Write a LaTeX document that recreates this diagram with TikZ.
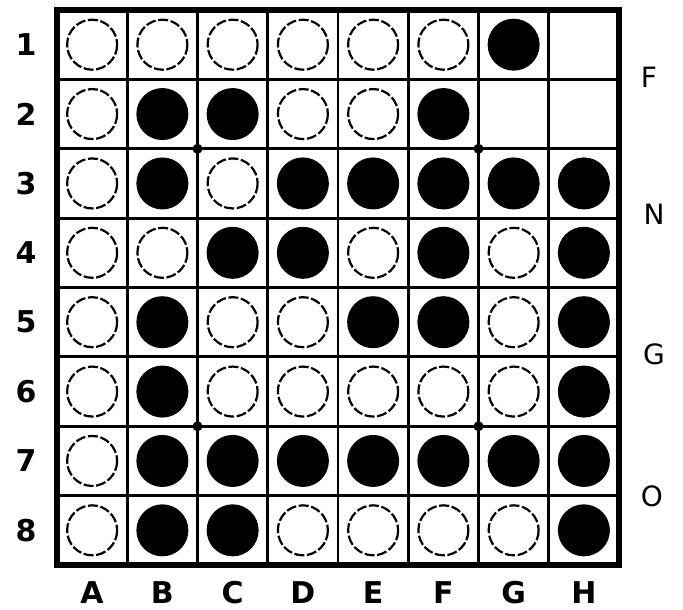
\documentclass[tikz,border=0pt]{standalone}
\usepackage{fontspec}
\setmainfont{DejaVu Sans}
\usetikzlibrary{arrows.meta}

\begin{document}
\begin{tikzpicture}[x=0.5pt, y=-0.5pt,
  gridline/.style={black, line width=1.4pt},
  boardedge/.style={black, line width=3pt},
  whitepiece/.style={draw=black, fill=white, line width=1.1pt, dash pattern=on 5pt off 1.3pt},
  blackpiece/.style={fill=black},
  rowlabel/.style={font=\fontsize{15}{17}\selectfont\bfseries},
  collabel/.style={inner sep=0pt, font=\fontsize{15}{17}\selectfont\bfseries},
  sidelabel/.style={font=\fontsize{14}{16}\selectfont}]
\useasboundingbox (0,0) rectangle (683,609);
\fill[white] (0,0) rectangle (683,609);
\draw[gridline] (127.25,10) -- (127.25,565);
\draw[gridline] (197.5,10) -- (197.5,565);
\draw[gridline] (267.75,10) -- (267.75,565);
\draw[gridline] (338,10) -- (338,565);
\draw[gridline] (408.25,10) -- (408.25,565);
\draw[gridline] (478.5,10) -- (478.5,565);
\draw[gridline] (548.75,10) -- (548.75,565);
\draw[gridline] (57,79.375) -- (619,79.375);
\draw[gridline] (57,148.75) -- (619,148.75);
\draw[gridline] (57,218.125) -- (619,218.125);
\draw[gridline] (57,287.5) -- (619,287.5);
\draw[gridline] (57,356.875) -- (619,356.875);
\draw[gridline] (57,426.25) -- (619,426.25);
\draw[gridline] (57,495.625) -- (619,495.625);
\draw[boardedge] (57,10) rectangle (619,565);
\fill (197.5,148.75) circle (5);
\fill (478.5,148.75) circle (5);
\fill (197.5,426.25) circle (5);
\fill (478.5,426.25) circle (5);
\foreach \c/\r in {7/1, 2/2,3/2,6/2, 2/3,4/3,5/3,6/3,7/3,8/3, 3/4,4/4,6/4,8/4,
  2/5,5/5,6/5,8/5, 2/6,8/6, 2/7,3/7,4/7,5/7,6/7,7/7,8/7, 2/8,3/8,8/8}
  \fill[blackpiece] ({57+70.25*(\c-0.5)},{10+69.375*(\r-0.5)}) circle (26);
\foreach \c/\r in {1/1,2/1,3/1,4/1,5/1,6/1, 1/2,4/2,5/2, 1/3,3/3, 1/4,2/4,5/4,7/4,
  1/5,3/5,4/5,7/5, 1/6,3/6,4/6,5/6,6/6,7/6, 1/7, 1/8,4/8,5/8,6/8,7/8}
  \draw[whitepiece] ({57+70.25*(\c-0.5)},{10+69.375*(\r-0.5)}) circle (25);
\node[rowlabel] (r1) at (26,44.7) {1};
\node[rowlabel] (r2) at (26,114.1) {2};
\node[rowlabel] (r3) at (26,183.4) {3};
\node[rowlabel] (r4) at (26,252.8) {4};
\node[rowlabel] (r5) at (26,322.2) {5};
\node[rowlabel] (r6) at (26,391.6) {6};
\node[rowlabel] (r7) at (26,460.9) {7};
\node[rowlabel] (r8) at (26,530.3) {8};
\node[collabel] (cA) at (92.1,593) {A};
\node[collabel] (cB) at (162.4,593) {B};
\node[collabel] (cC) at (232.6,593) {C};
\node[collabel] (cD) at (302.9,593) {D};
\node[collabel] (cE) at (373.1,593) {E};
\node[collabel] (cF) at (443.4,593) {F};
\node[collabel] (cG) at (513.6,593) {G};
\node[collabel] (cH) at (583.9,593) {H};
\node[sidelabel] (sF) at (649,77) {F};
\node[sidelabel] (sN) at (654,214) {N};
\node[sidelabel] (sG) at (654,354) {G};
\node[sidelabel] (sO) at (652,496) {O};
\end{tikzpicture}
\end{document}
